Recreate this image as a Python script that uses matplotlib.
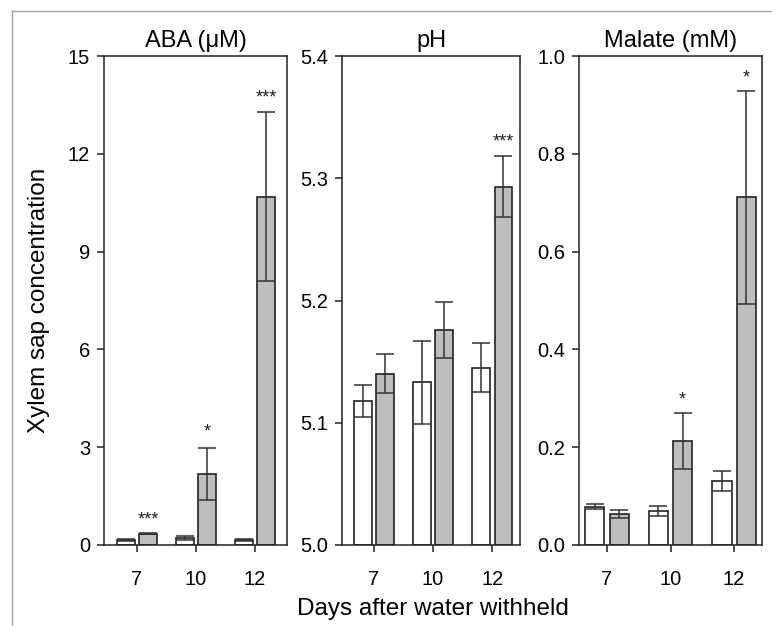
import numpy as np
import matplotlib
matplotlib.use("Agg")
import matplotlib.pyplot as plt
from matplotlib.lines import Line2D

plt.rcParams['font.family'] = ['Liberation Sans', 'DejaVu Sans']

# Daten
days = ['7', '10', '12']

aba_ctrl = [0.15, 0.22, 0.15]
aba_ctrl_err = [0.02, 0.07, 0.02]
aba_dry = [0.35, 2.17, 10.69]
aba_dry_err = [0.02, 0.80, 2.59]
aba_stars = ['***', '*', '***']
aba_star_y = [0.8, 3.5, 13.76]

ph_ctrl = [5.118, 5.133, 5.145]
ph_ctrl_err = [0.013, 0.034, 0.020]
ph_dry = [5.140, 5.176, 5.293]
ph_dry_err = [0.016, 0.023, 0.025]
ph_stars = ['', '', '***']
ph_star_y = [0, 0, 5.331]

mal_ctrl = [0.078, 0.070, 0.131]
mal_ctrl_err = [0.005, 0.010, 0.020]
mal_dry = [0.063, 0.212, 0.711]
mal_dry_err = [0.008, 0.057, 0.218]
mal_stars = ['', '*', '*']
mal_star_y = [0, 0.300, 0.959]

panels = [
    dict(title='ABA (μM)', ctrl=aba_ctrl, ctrl_err=aba_ctrl_err, dry=aba_dry, dry_err=aba_dry_err,
         stars=aba_stars, star_y=aba_star_y, base=0, ylim=(0, 15), yticks=[0, 3, 6, 9, 12, 15], fmt='{:.0f}',
         rect=[104, 56, 287, 545], xlim=(-0.56, 2.54)),
    dict(title='pH', ctrl=ph_ctrl, ctrl_err=ph_ctrl_err, dry=ph_dry, dry_err=ph_dry_err,
         stars=ph_stars, star_y=ph_star_y, base=5.0, ylim=(5.0, 5.4), yticks=[5.0, 5.1, 5.2, 5.3, 5.4], fmt='{:.1f}',
         rect=[342, 56, 520, 545], xlim=(-0.54, 2.47)),
    dict(title='Malate (mM)', ctrl=mal_ctrl, ctrl_err=mal_ctrl_err, dry=mal_dry, dry_err=mal_dry_err,
         stars=mal_stars, star_y=mal_star_y, base=0, ylim=(0, 1.0), yticks=[0, 0.2, 0.4, 0.6, 0.8, 1.0], fmt='{:.1f}',
         rect=[579, 56, 762, 545], xlim=(-0.44, 2.44)),
]

W, H = 772, 626
fig = plt.figure(figsize=(W / 100, H / 100), dpi=100)

edge = '#222222'
errc = '#333333'
grey = '#bebebe'
width = 0.3
off = 0.19

for p in panels:
    x0, y0, x1, y1 = p['rect']
    ax = fig.add_axes([x0 / W, 1 - y1 / H, (x1 - x0) / W, (y1 - y0) / H])
    x = np.arange(len(days))
    base = p['base']
    ctrl = np.array(p['ctrl'])
    dry = np.array(p['dry'])
    ax.bar(x - off, ctrl - base, width, bottom=base, color='white', edgecolor=edge, linewidth=1.2, zorder=2)
    ax.bar(x + off, dry - base, width, bottom=base, color=grey, edgecolor=edge, linewidth=1.2, zorder=2)
    ax.errorbar(x - off, ctrl, yerr=p['ctrl_err'], fmt='none', ecolor=errc, elinewidth=1.1, capsize=6.5, capthick=1.1, zorder=3)
    ax.errorbar(x + off, dry, yerr=p['dry_err'], fmt='none', ecolor=errc, elinewidth=1.1, capsize=6.5, capthick=1.1, zorder=3)
    for i, s in enumerate(p['stars']):
        if s:
            ax.annotate(s, xy=(x[i] + off, p['star_y'][i]), xytext=(0, -4.3), textcoords='offset points',
                        ha='center', va='baseline', fontsize=13, color='#222222')
    ax.set_xlim(*p['xlim'])
    ax.set_ylim(*p['ylim'])
    ax.set_xticks(x)
    ax.set_xticklabels(days)
    ax.set_yticks(p['yticks'])
    ax.set_yticklabels([p['fmt'].format(v) for v in p['yticks']])
    ax.tick_params(direction='out', length=5, width=1.1, color=edge, labelsize=14.5, pad=5)
    ax.tick_params(axis='x', pad=13)
    for sp in ax.spines.values():
        sp.set_linewidth(1.1)
        sp.set_color(edge)
    ax.set_title(p['title'], fontsize=17, pad=6.5)

fig.text(39 / W, 1 - 300 / H, 'Xylem sap concentration', rotation=90, ha='center', va='center', fontsize=17.5)
fig.text(433 / W, 1 - 609 / H, 'Days after water withheld', ha='center', va='center', fontsize=17.5)

# Rahmen
fig.add_artist(Line2D([12 / W, 12 / W], [0, 1 - 11 / H], transform=fig.transFigure, color='#a0a0a0', lw=1.0))
fig.add_artist(Line2D([12 / W, 1], [1 - 11 / H, 1 - 11 / H], transform=fig.transFigure, color='#a0a0a0', lw=1.0))

fig.savefig('out.png', dpi=100)
